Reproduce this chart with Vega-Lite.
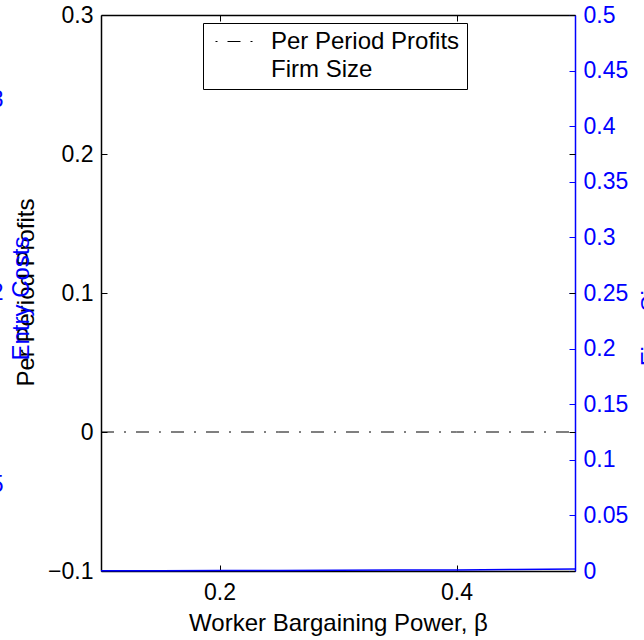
{
  "$schema": "https://vega.github.io/schema/vega-lite/v6.json",
  "width": 474,
  "height": 556,
  "autosize": {"type": "none"},
  "padding": {"left": 101, "top": 15, "right": 69, "bottom": 69},
  "background": "white",
  "config": {
    "view": {"stroke": null},
    "font": "Liberation Sans",
    "axis": {
      "grid": false,
      "labelFont": "Liberation Sans",
      "titleFont": "Liberation Sans",
      "labelFontSize": 23,
      "titleFontSize": 24,
      "titleFontWeight": "normal",
      "labelColor": "black",
      "titleColor": "black",
      "domainColor": "black",
      "tickColor": "black",
      "domainWidth": 1.5,
      "tickWidth": 1,
      "tickSize": -6,
      "labelFlush": false,
      "labelOverlap": false
    },
    "legend": {
      "labelFont": "Liberation Sans",
      "labelFontSize": 24,
      "labelColor": "black"
    }
  },
  "data": {
    "values": [
      {"beta": 0.10, "profit": 0, "firm_size": 0.0002},
      {"beta": 0.15, "profit": 0, "firm_size": 0.0003},
      {"beta": 0.20, "profit": 0, "firm_size": 0.0004},
      {"beta": 0.25, "profit": 0, "firm_size": 0.0005},
      {"beta": 0.30, "profit": 0, "firm_size": 0.0006},
      {"beta": 0.35, "profit": 0, "firm_size": 0.0008},
      {"beta": 0.40, "profit": 0, "firm_size": 0.0010},
      {"beta": 0.45, "profit": 0, "firm_size": 0.0013},
      {"beta": 0.50, "profit": 0, "firm_size": 0.0017}
    ]
  },
  "layer": [
    {
      "mark": {"type": "line", "color": "black", "strokeWidth": 1, "clip": false},
      "encoding": {
        "x": {
          "field": "beta", "type": "quantitative",
          "scale": {"domain": [0.1, 0.5], "nice": false, "zero": false},
          "axis": {
            "orient": "bottom", "values": [0.2, 0.4], "format": "~g",
            "labelPadding": 16, "labelBaseline": "top",
            "title": "Worker Bargaining Power, β",
            "titleBaseline": "alphabetic", "titleY": 59
          }
        },
        "y": {
          "field": "profit", "type": "quantitative",
          "scale": {"domain": [-0.1, 0.3], "nice": false, "zero": false},
          "axis": {
            "orient": "left", "values": [-0.1, 0, 0.1, 0.2, 0.3], "format": "~g",
            "labelPadding": 14,
            "title": "Per Period Profits",
            "titleAngle": 270, "titleBaseline": "alphabetic", "titleAlign": "center",
            "titleX": -67.5, "titleY": 277
          }
        },
        "strokeDash": {
          "datum": "Per Period Profits",
          "type": "nominal",
          "scale": {
            "domain": ["Per Period Profits", "Firm Size"],
            "range": [[13, 10, 2, 10], [0, 1000]]
          },
          "legend": {
            "title": null,
            "orient": "none",
            "legendX": 102,
            "legendY": 8,
            "fillColor": "white",
            "strokeColor": "black",
            "padding": 7,
            "symbolType": "stroke",
            "symbolSize": 1444,
            "symbolStrokeWidth": 1,
            "symbolStrokeColor": "black",
            "symbolOffset": 5,
            "labelOffset": 17,
            "labelLimit": 400,
            "clipHeight": 23,
            "rowPadding": 3,
            "encode": {
              "symbols": {"update": {"strokeDashOffset": {"value": 23}}}
            }
          }
        }
      }
    },
    {
      "mark": {"type": "line", "color": "#0000ff", "strokeWidth": 1.5, "clip": false},
      "encoding": {
        "x": {
          "field": "beta", "type": "quantitative",
          "scale": {"domain": [0.1, 0.5], "nice": false, "zero": false},
          "axis": null
        },
        "y": {
          "field": "firm_size", "type": "quantitative",
          "scale": {"domain": [0, 0.5], "nice": false, "zero": false},
          "axis": {
            "orient": "right",
            "values": [0, 0.05, 0.1, 0.15, 0.2, 0.25, 0.3, 0.35, 0.4, 0.45, 0.5],
            "format": "~g",
            "labelPadding": 14,
            "labelColor": "#0000ff",
            "tickColor": "#0000ff",
            "domainColor": "#0000ff",
            "title": "Firm Size",
            "titleColor": "#0000ff",
            "titleAngle": 270, "titleBaseline": "alphabetic", "titleAlign": "center",
            "titleX": 82, "titleY": 300
          }
        }
      }
    },
    {
      "mark": {"type": "line", "opacity": 0},
      "encoding": {
        "x": {
          "field": "beta", "type": "quantitative",
          "scale": {"domain": [0.1, 0.5], "nice": false, "zero": false},
          "axis": {"orient": "top", "values": [0.2, 0.4], "labels": false, "title": null}
        },
        "y": {
          "field": "profit", "type": "quantitative",
          "scale": {"domain": [-0.1, 0.3], "nice": false, "zero": false},
          "axis": {"orient": "right", "values": [-0.1, 0, 0.1, 0.2, 0.3], "labels": false, "domain": false, "title": null}
        }
      }
    },
    {
      "mark": {"type": "line", "opacity": 0},
      "encoding": {
        "x": {
          "field": "beta", "type": "quantitative",
          "scale": {"domain": [0.1, 0.5], "nice": false, "zero": false},
          "axis": null
        },
        "y": {
          "field": "profit", "type": "quantitative",
          "scale": {"domain": [0.05, 2.94], "nice": false, "zero": false},
          "axis": {
            "orient": "left", "values": [0.5, 1.5, 2.5], "format": "~g",
            "ticks": false, "domain": false,
            "labelPadding": 98,
            "labelColor": "#0000ff",
            "title": "Entry Costs",
            "titleColor": "#0000ff",
            "titleAngle": 270, "titleBaseline": "alphabetic", "titleAlign": "center",
            "titleX": -72.5, "titleY": 283
          }
        }
      }
    }
  ],
  "resolve": {
    "scale": {"x": "independent", "y": "independent"},
    "axis": {"x": "independent", "y": "independent"}
  }
}
